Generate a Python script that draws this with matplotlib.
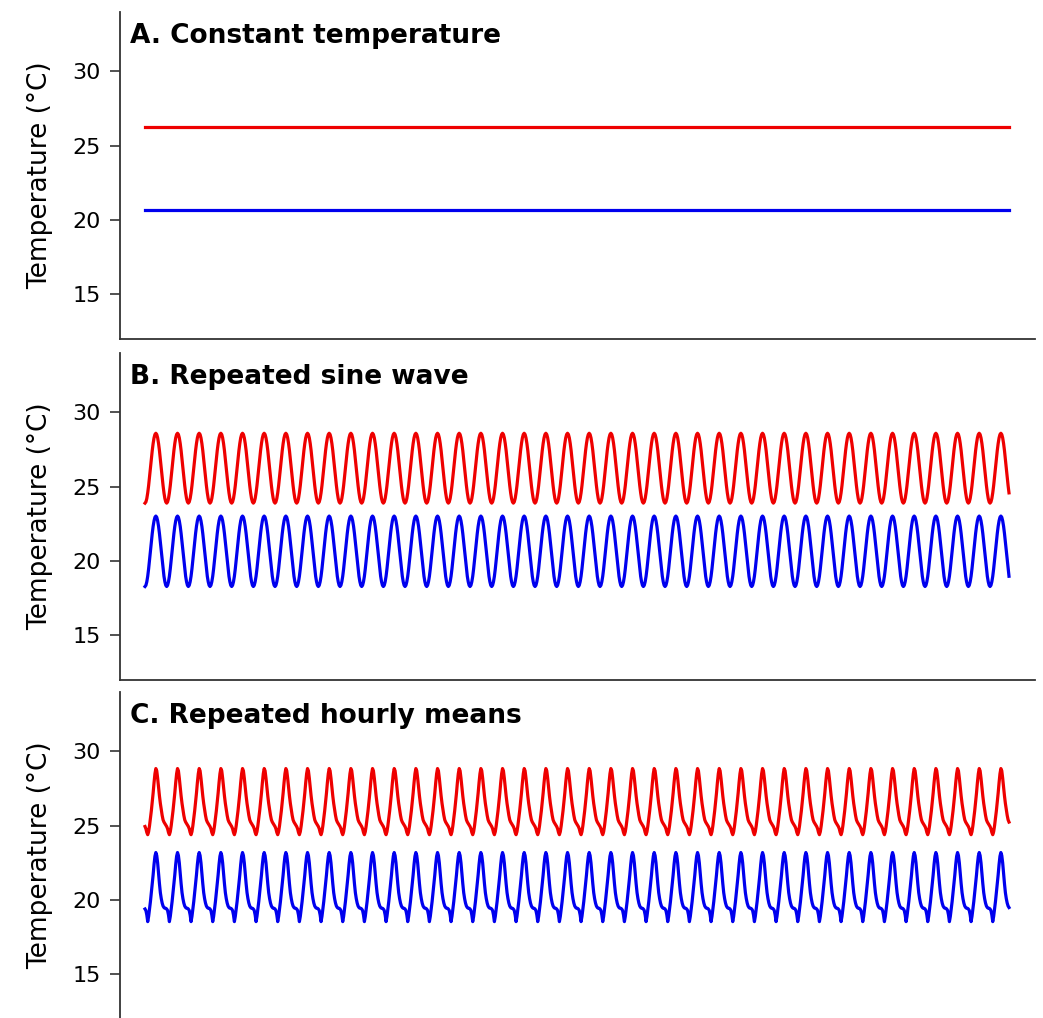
"""Three panels of temperature treatments: constant, repeated sine, repeated hourly means."""
import numpy as np
import matplotlib
matplotlib.use("Agg")
import matplotlib.pyplot as plt

plt.rcParams["font.family"] = ["DejaVu Sans"]

# length of each series (hours) and number of repeated days
n_hours = 958
n_days = 40

# A. constant temperature (deg C)
const_warm = 26.25
const_cool = 20.70

# B. one day of the sine wave, hour 0..23
sine_warm_day = [23.90, 23.98, 24.21, 24.59, 25.08, 25.64, 26.25, 26.86,
                 27.43, 27.91, 28.29, 28.52, 28.60, 28.52, 28.29, 27.91,
                 27.43, 26.86, 26.25, 25.64, 25.08, 24.59, 24.21, 23.98]
sine_cool_day = [18.29, 18.37, 18.61, 18.98, 19.48, 20.05, 20.66, 21.27,
                 21.85, 22.34, 22.71, 22.95, 23.03, 22.95, 22.71, 22.34,
                 21.85, 21.27, 20.66, 20.05, 19.48, 18.98, 18.61, 18.37]

# C. one day of hourly means, hour 0..23
hourly_warm_day = [24.95, 24.80, 24.55, 24.40, 24.60, 25.00, 25.50, 26.00,
                   26.60, 27.20, 27.90, 28.50, 28.85, 28.70, 28.20, 27.60,
                   27.00, 26.50, 26.10, 25.70, 25.40, 25.25, 25.15, 25.05]
hourly_cool_day = [19.40, 19.30, 19.00, 18.55, 18.90, 19.40, 19.90, 20.50,
                   21.10, 21.70, 22.40, 22.95, 23.20, 23.00, 22.50, 21.80,
                   21.10, 20.50, 20.10, 19.80, 19.60, 19.50, 19.45, 19.45]

titles = ["A. Constant temperature", "B. Repeated sine wave",
          "C. Repeated hourly means"]

hours = np.arange(n_hours)
series = [
    (np.full(n_hours, const_warm), np.full(n_hours, const_cool)),
    (np.tile(sine_warm_day, n_days)[:n_hours], np.tile(sine_cool_day, n_days)[:n_hours]),
    (np.tile(hourly_warm_day, n_days)[:n_hours], np.tile(hourly_cool_day, n_days)[:n_hours]),
]

W, H = 1043, 1018
fig = plt.figure(figsize=(W / 100, H / 100), dpi=100)

# axes boxes in pixels: left, top, right, bottom
boxes = [(120, 12, 1035, 339), (120, 353, 1035, 680), (120, 692, 1035, 1019)]

for (l, t, r, b), title, (warm, cool) in zip(boxes, titles, series):
    ax = fig.add_axes([l / W, 1 - b / H, (r - l) / W, (b - t) / H])
    ax.plot(hours, warm, color="#ee0000", linewidth=2.3)
    ax.plot(hours, cool, color="#0000ee", linewidth=2.3)

    ax.set_xlim(-27.7, 985.8)
    ax.set_ylim(12, 34)
    ax.set_yticks([15, 20, 25, 30])
    ax.set_xticks([])
    for side in ["top", "right"]:
        ax.spines[side].set_visible(False)
    for side in ["left", "bottom"]:
        ax.spines[side].set_color("#333333")
        ax.spines[side].set_linewidth(1.3)
    ax.tick_params(axis="y", direction="out", length=7, width=1.2,
                   color="#333333", labelsize=16, pad=7)

    ax.set_ylabel("Temperature (°C)", fontsize=19)
    ax.yaxis.set_label_coords(-0.073, 0.5)

    ax.text(0.011, 0.905, title, transform=ax.transAxes, fontsize=19,
            fontweight="bold", ha="left", va="baseline")

fig.savefig("out.png", dpi=100)
plt.close(fig)
